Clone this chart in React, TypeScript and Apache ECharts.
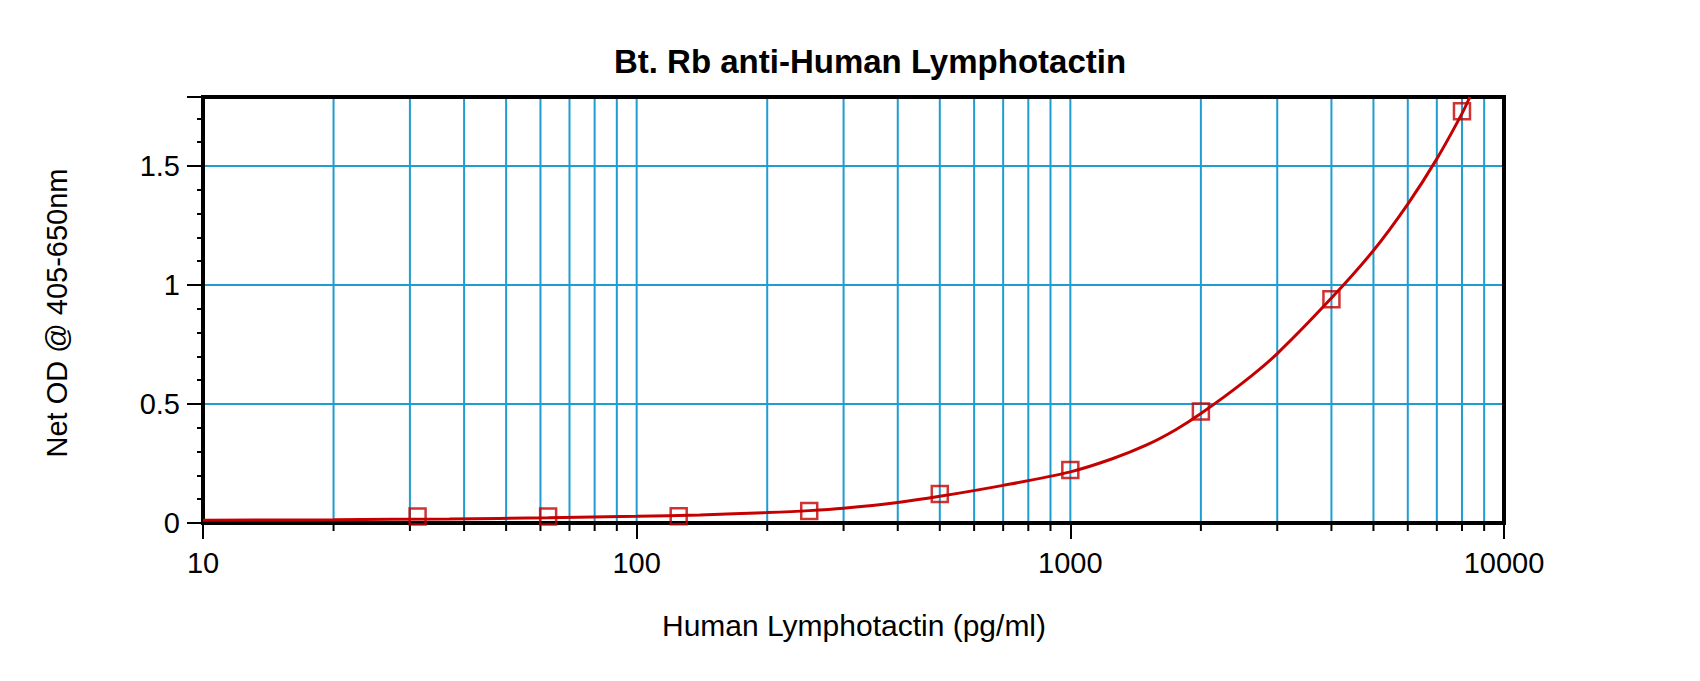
import React, { useRef, useEffect } from 'react';
import * as echarts from 'echarts';

// standard points (pg/ml) and measured net OD
const concentrations = [31.25, 62.5, 125, 250, 500, 1000, 2000, 4000, 8000];
const netOD = [0.027, 0.027, 0.028, 0.05, 0.122, 0.223, 0.468, 0.94, 1.73];

// fitted curve
const fitConc = [10, 20, 37, 62.5, 100, 140, 200, 250, 300, 400, 500, 700, 1000, 1250, 1500, 1750, 2000, 2500, 3000, 4000, 5000, 6000, 7000, 8000, 8340];
const fitOD = [0.012, 0.014, 0.017, 0.022, 0.028, 0.034, 0.044, 0.052, 0.062, 0.086, 0.112, 0.158, 0.215, 0.27, 0.328, 0.392, 0.46, 0.59, 0.712, 0.945, 1.145, 1.34, 1.53, 1.72, 1.79];

// vertical grid lines (every 1..9 of each decade) and horizontal ones
const xGridValues = [20, 30, 40, 50, 60, 70, 80, 90, 100, 200, 300, 400, 500, 600, 700, 800, 900, 1000, 2000, 3000, 4000, 5000, 6000, 7000, 8000, 9000];
const xDecades = [10, 100, 1000, 10000];
const yGridValues = [0.5, 1, 1.5];

const X_MIN = 10;
const X_MAX = 10000;
const Y_MAX = 1.79;

const GRID_COLOR = '#1d9dd2';
const RED = '#c40000';
const FONT = 'Liberation Sans, Arial, sans-serif';

const App: React.FC = () => {
  const chartRef = useRef<HTMLDivElement>(null);

  useEffect(() => {
    if (!chartRef.current) return;
    document.body.style.margin = '0';
    const chart = echarts.init(chartRef.current, undefined, { renderer: 'svg' });

    const option: echarts.EChartsOption = {
      animation: false,
      backgroundColor: '#fff',
      grid: {
        left: 203,
        right: 196,
        top: 97,
        bottom: 158,
        show: true,
        borderColor: '#000',
        borderWidth: 4,
      },
      xAxis: {
        type: 'log',
        logBase: 10,
        min: X_MIN,
        max: X_MAX,
        axisLine: { show: true, onZero: false, lineStyle: { color: '#000', width: 4 } },
        axisTick: { show: true, length: 16, lineStyle: { color: '#000', width: 2 } },
        axisLabel: {
          margin: 25,
          fontSize: 29,
          fontFamily: FONT,
          color: '#000',
          formatter: (v: number) => String(Math.round(v)),
        },
        splitLine: { show: false },
      },
      yAxis: {
        type: 'value',
        min: 0,
        max: Y_MAX,
        interval: 0.5,
        axisLine: { show: true, onZero: false, lineStyle: { color: '#000', width: 4 } },
        axisTick: { show: true, length: 16, lineStyle: { color: '#000', width: 2 } },
        minorTick: { show: true, splitNumber: 5, length: 6, lineStyle: { color: '#000', width: 2 } },
        axisLabel: {
          margin: 23,
          fontSize: 29,
          fontFamily: FONT,
          color: '#000',
          formatter: (v: number) => (Math.abs(v * 2 - Math.round(v * 2)) < 1e-6 ? String(v) : ''),
        },
        splitLine: { show: false },
      },
      graphic: [
        {
          type: 'text',
          x: 870,
          y: 61,
          style: {
            text: 'Bt. Rb anti-Human Lymphotactin',
            fontSize: 33,
            fontWeight: 'bold',
            fontFamily: FONT,
            fill: '#000',
            align: 'center',
            verticalAlign: 'middle',
            textAlign: 'center',
            textVerticalAlign: 'middle',
          } as any,
        },
        {
          type: 'text',
          x: 854,
          y: 625,
          style: {
            text: 'Human Lymphotactin (pg/ml)',
            fontSize: 30,
            fontFamily: FONT,
            fill: '#000',
            align: 'center',
            verticalAlign: 'middle',
            textAlign: 'center',
            textVerticalAlign: 'middle',
          } as any,
        },
        {
          type: 'text',
          x: 57,
          y: 313,
          rotation: Math.PI / 2,
          style: {
            text: 'Net OD @ 405-650nm',
            fontSize: 29,
            fontFamily: FONT,
            fill: '#000',
            align: 'center',
            verticalAlign: 'middle',
            textAlign: 'center',
            textVerticalAlign: 'middle',
          } as any,
        },
      ],
      series: [
        {
          // vertical grid lines + minor ticks under the x axis
          type: 'custom',
          z: 1,
          clip: false,
          silent: true,
          data: xGridValues.map((v) => [v, 0]),
          renderItem: (params: any, api: any) => {
            const v = api.value(0);
            const bot = api.coord([v, 0]);
            const top = api.coord([v, Y_MAX]);
            const children: any[] = [
              {
                type: 'line',
                shape: { x1: bot[0], y1: bot[1] - 2, x2: top[0], y2: top[1] + 2 },
                style: { stroke: GRID_COLOR, lineWidth: 2 },
              },
            ];
            if (!xDecades.includes(v)) {
              children.push({
                type: 'line',
                shape: { x1: bot[0], y1: bot[1], x2: bot[0], y2: bot[1] + 8 },
                style: { stroke: '#000', lineWidth: 2 },
              });
            }
            return { type: 'group', children };
          },
        },
        {
          // horizontal grid lines
          type: 'custom',
          z: 1,
          clip: false,
          silent: true,
          data: yGridValues.map((v) => [X_MIN, v]),
          renderItem: (params: any, api: any) => {
            const v = api.value(1);
            const l = api.coord([X_MIN, v]);
            const r = api.coord([X_MAX, v]);
            return {
              type: 'line',
              shape: { x1: l[0] + 2, y1: l[1], x2: r[0] - 2, y2: r[1] },
              style: { stroke: GRID_COLOR, lineWidth: 2 },
            };
          },
        },
        {
          type: 'line',
          z: 3,
          smooth: 0.3,
          showSymbol: false,
          silent: true,
          data: fitConc.map((c, i) => [c, fitOD[i]]),
          lineStyle: { color: RED, width: 3 },
        },
        {
          type: 'scatter',
          z: 4,
          symbol: 'rect',
          symbolSize: 16,
          data: concentrations.map((c, i) => [c, netOD[i]]),
          itemStyle: { color: 'rgba(0,0,0,0)', borderColor: RED, borderWidth: 2.5 },
        },
      ],
    };

    chart.setOption(option);

    return () => {
      chart.dispose();
    };
  }, []);

  return (
    <div
      ref={chartRef}
      style={{ position: 'fixed', left: 0, top: 0, width: 1700, height: 681 }}
    />
  );
};

export default App;
